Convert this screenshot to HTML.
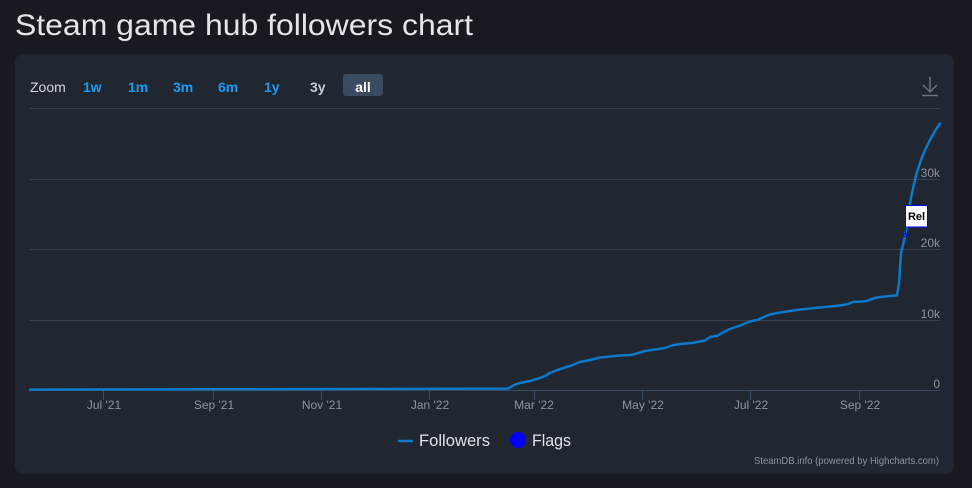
<!DOCTYPE html>
<html><head><meta charset="utf-8"><style>
html,body{margin:0;padding:0;background:#171a21;}
svg{display:block;}
text{font-family:"Liberation Sans",sans-serif;}
</style></head><body>
<svg width="972" height="488" viewBox="0 0 972 488" xmlns="http://www.w3.org/2000/svg">
<rect x="0" y="0" width="972" height="488" fill="#171a21"/>
<text x="15" y="35" font-size="30" fill="#e4e6e9" textLength="458" lengthAdjust="spacingAndGlyphs">Steam game hub followers chart</text>
<rect x="15" y="54" width="939" height="420" rx="8" ry="8" fill="#202731"/>
<!-- range selector -->
<text x="30" y="92" font-size="14" fill="#d4d7dc">Zoom</text>
<g font-size="14" font-weight="bold" fill="#1b9cf5">
<text x="83" y="92">1w</text>
<text x="128" y="92">1m</text>
<text x="173" y="92">3m</text>
<text x="218" y="92">6m</text>
<text x="264" y="92">1y</text>
</g>
<text x="310" y="92" font-size="14" font-weight="bold" fill="#c9cdd3">3y</text>
<rect x="343" y="74" width="40" height="22" rx="3" fill="#3a4a60"/>
<text x="363" y="92" font-size="14" font-weight="bold" fill="#ffffff" text-anchor="middle">all</text>
<!-- download icon -->
<g stroke="#6c737d" stroke-width="1.5" fill="none">
<line x1="930" y1="77" x2="930" y2="92"/>
<polyline points="923,85 930,92 937,85"/>
<line x1="922" y1="95.5" x2="938" y2="95.5"/>
</g>
<!-- grid -->
<g stroke="#3a414c" stroke-width="1">
<line x1="30" y1="108.5" x2="940" y2="108.5"/>
<line x1="30" y1="179.5" x2="940" y2="179.5"/>
<line x1="30" y1="249.5" x2="940" y2="249.5"/>
<line x1="30" y1="320.5" x2="940" y2="320.5"/>
</g>
<line x1="30" y1="390.5" x2="940" y2="390.5" stroke="#3b4a5e" stroke-width="1"/>
<!-- y labels -->
<g font-size="12" fill="#8d959e" text-anchor="end">
<text x="940" y="177">30k</text>
<text x="940" y="247">20k</text>
<text x="940" y="318">10k</text>
<text x="940" y="388">0</text>
</g>
<!-- x ticks -->
<g stroke="#3b4a5e" stroke-width="1">
<line x1="103.5" y1="390" x2="103.5" y2="400"/>
<line x1="213.5" y1="390" x2="213.5" y2="400"/>
<line x1="321.5" y1="390" x2="321.5" y2="400"/>
<line x1="429.5" y1="390" x2="429.5" y2="400"/>
<line x1="534.5" y1="390" x2="534.5" y2="400"/>
<line x1="642.5" y1="390" x2="642.5" y2="400"/>
<line x1="750.5" y1="390" x2="750.5" y2="400"/>
<line x1="859.5" y1="390" x2="859.5" y2="400"/>
</g>
<g font-size="12" fill="#8d959e" text-anchor="middle">
<text x="104" y="409">Jul '21</text>
<text x="214" y="409">Sep '21</text>
<text x="322" y="409">Nov '21</text>
<text x="430" y="409">Jan '22</text>
<text x="534" y="409">Mar '22</text>
<text x="643" y="409">May '22</text>
<text x="751" y="409">Jul '22</text>
<text x="860" y="409">Sep '22</text>
</g>
<!-- series -->
<path d="M30,389.6 L200,389.3 L400,388.9 L508,388.6 L511,387 L514,385 L520,383 L530,381 L540,378 L545,376 L550,373 L560,369 L570,366 L580,362 L590,360 L600,357.5 L610,356.5 L620,355.5 L630,355 L635,354 L645,351 L655,349.5 L665,348 L672,345.5 L680,344 L692,343 L705,340.5 L710,337 L718,335.5 L722,333 L730,329 L736,327 L742,325 L746,323 L752,321 L758,319.8 L764,317 L770,314.5 L780,312.5 L790,311 L800,309.5 L810,308.5 L820,307.5 L835,306 L843,305 L848,304 L853,302 L862,301.5 L868,300.7 L875,297.8 L885,296.5 L897,295.3 L899,283 L901,253 L903,245 L905,236 L907,225 L909,210 L911,198 L914,184 L917,172 L921,160 L925,150 L930,140 L935,131 L940,123.5" fill="none" stroke="#0c79c9" stroke-width="2.5" stroke-linejoin="round" stroke-linecap="round"/>
<!-- flag -->
<line x1="905.5" y1="227" x2="905.5" y2="235" stroke="#0000ff" stroke-width="1"/>
<circle cx="905.3" cy="235" r="1.6" fill="none" stroke="#0000ff" stroke-width="1"/>
<rect x="905.5" y="205.5" width="22" height="21.5" fill="#ffffff" stroke="#0000ff" stroke-width="1"/>
<text x="916.5" y="220" font-size="11" font-weight="bold" fill="#000000" text-anchor="middle">Rel</text>
<!-- legend -->
<line x1="398" y1="441" x2="413" y2="441" stroke="#0c79c9" stroke-width="2.5"/>
<text x="419" y="446" font-size="16.5" fill="#e0e3e7" textLength="71" lengthAdjust="spacingAndGlyphs">Followers</text>
<circle cx="518" cy="440" r="8" fill="#0000ff"/>
<text x="532" y="446" font-size="16.5" fill="#e0e3e7" textLength="39" lengthAdjust="spacingAndGlyphs">Flags</text>
<!-- credits -->
<text x="939" y="464" font-size="10.5" fill="#8d959e" text-anchor="end" textLength="185" lengthAdjust="spacingAndGlyphs">SteamDB.info (powered by Highcharts.com)</text>
</svg>
</body></html>
